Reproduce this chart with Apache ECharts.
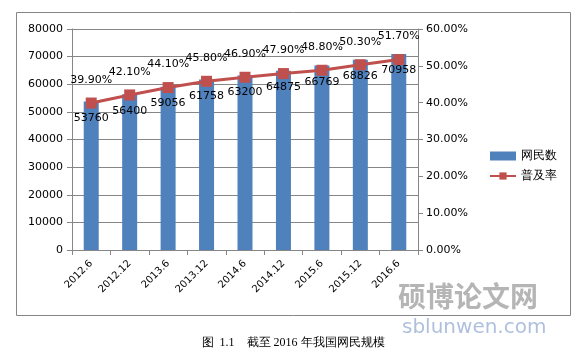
<!DOCTYPE html>
<html><head><meta charset="utf-8">
<script src="https://cdn.jsdelivr.net/npm/echarts@6/dist/echarts.min.js"></script>
<style>html,body{margin:0;padding:0;background:#fff}#c{width:586px;height:356px}</style>
</head><body><div id="c"></div>
<script>
const categories = ['2012.6','2012.12','2013.6','2013.12','2014.6','2014.12','2015.6','2015.12','2016.6'];
const netizens = [53760,56400,59056,61758,63200,64875,66769,68826,70958];
const penetration = [39.9,42.1,44.1,45.8,46.9,47.9,48.8,50.3,51.7];
const leftTicks = {min:0,max:80000,interval:10000};
const rightTicks = {min:0,max:60,interval:10};
const seriesNames = ['网民数','普及率'];
const caption = '图  1.1    截至 2016 年我国网民规模';

const chart = echarts.init(document.getElementById('c'), null, {renderer:'canvas'});
const font = 'DejaVu Sans';
chart.setOption({
  animation:false,
  backgroundColor:'#fff',
  grid:{left:72,right:168,top:29,bottom:106,containLabel:false},
  legend:{
    orient:'vertical', left:484, top:145, itemGap:8, itemWidth:26, itemHeight:9,
    textStyle:{fontFamily:font,fontSize:12,color:'#000'},
    data:[{name:seriesNames[0],icon:'rect'},{name:seriesNames[1]}]
  },
  xAxis:{
    type:'category', data:categories, boundaryGap:true,
    axisLine:{lineStyle:{color:'#868686'}},
    axisTick:{show:true,length:5,lineStyle:{color:'#868686'}},
    axisLabel:{rotate:45,fontFamily:font,fontSize:10,color:'#000',margin:12}
  },
  yAxis:[
    {type:'value',min:leftTicks.min,max:leftTicks.max,interval:leftTicks.interval,
     axisLine:{show:true,lineStyle:{color:'#868686'}},
     axisTick:{show:true,length:5,lineStyle:{color:'#868686'}},
     splitLine:{lineStyle:{color:'#868686'}},
     axisLabel:{fontFamily:font,fontSize:11,color:'#000',margin:9,formatter:v=>String(v)}},
    {type:'value',min:rightTicks.min,max:rightTicks.max,interval:rightTicks.interval,
     axisLine:{show:true,lineStyle:{color:'#868686'}},
     axisTick:{show:true,length:5,lineStyle:{color:'#868686'}},
     splitLine:{show:false},
     axisLabel:{fontFamily:font,fontSize:11,color:'#000',margin:8,formatter:v=>v.toFixed(2)+'%'}}
  ],
  series:[
    {name:seriesNames[0],type:'bar',data:netizens,barWidth:15,yAxisIndex:0,
     itemStyle:{color:'#4F81BD'},
     label:{show:true,position:'insideTop',distance:11,fontFamily:font,fontSize:11,color:'#000'}},
    {name:seriesNames[1],type:'line',data:penetration,yAxisIndex:1,
     symbol:'rect',symbolSize:11,
     lineStyle:{color:'#C0504D',width:3},itemStyle:{color:'#C0504D'},
     label:{show:true,position:'top',distance:12,fontFamily:font,fontSize:11,color:'#000',formatter:p=>p.value.toFixed(2)+'%'},
     z:3}
  ],
  graphic:[
    {type:'rect',shape:{x:16.5,y:12.5,width:554,height:303},style:{fill:'none',stroke:'#868686',lineWidth:1},z:-1},
    {type:'text',left:'center',top:337,style:{text:caption,font:'12px "Liberation Serif", serif',fill:'#000'}},
    {type:'text',left:398,top:282,style:{text:'硕博论文网',font:'bold 28px "Noto Sans CJK SC"',fill:'rgba(120,120,120,0.55)'}},
    {type:'text',left:402,top:318,style:{text:'sblunwen.com',font:'20px "DejaVu Sans"',fill:'rgba(120,150,200,0.6)'}}
  ]
});
</script></body></html>
